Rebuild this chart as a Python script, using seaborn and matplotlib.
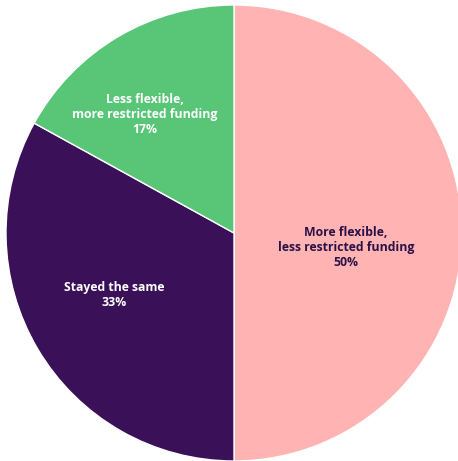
import matplotlib
matplotlib.use("Agg")
import matplotlib.pyplot as plt
import seaborn as sns

categories = ["More flexible,\nless restricted funding", "Stayed the same", "Less flexible,\nmore restricted funding"]
values = [50, 33, 17]
colors = ["#FFB3B2", "#3A1159", "#58C577"]
text_colors = ["#2A1248", "white", "white"]

sns.set_theme(style="white")
plt.rcParams['font.family'] = ['Open Sans', 'Noto Sans', 'DejaVu Sans']

fig = plt.figure(figsize=(4.58, 4.61), dpi=100)
ax = fig.add_axes([6/458, 0, 456/458, 456/461])
wedges, _ = ax.pie(values, colors=colors, startangle=90, counterclock=False,
                   wedgeprops=dict(edgecolor="white", linewidth=1.0))
ax.set_xlim(-1, 1)
ax.set_ylim(-1, 1)
ax.set_aspect("equal")
ax.axis("off")

label_pos = [(0.49, -0.065), (-0.525, -0.27), (-0.39, 0.52)]
for cat, v, tc, (x, y) in zip(categories, values, text_colors, label_pos):
    ax.text(x, y, f"{cat}\n{v}%", ha="center", va="center", color=tc,
            fontsize=8.8, fontweight="bold", linespacing=1.2)

fig.savefig("out.png", dpi=100)
